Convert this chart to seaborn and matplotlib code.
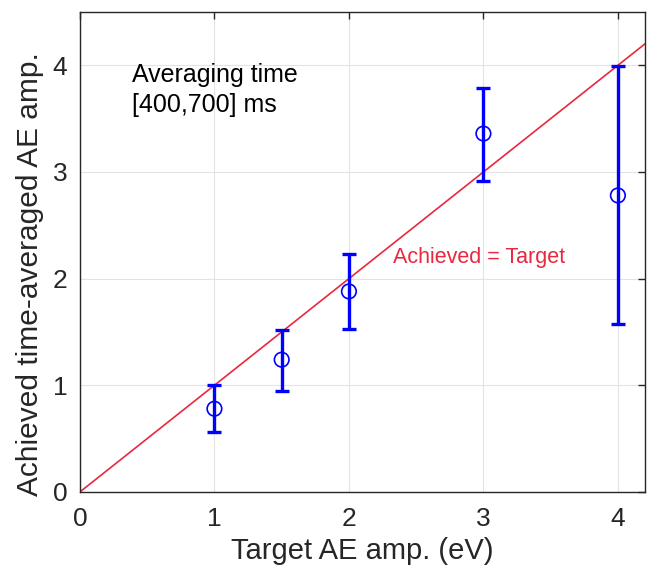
import matplotlib
matplotlib.use("Agg")
import matplotlib.pyplot as plt
import numpy as np
import pandas as pd
import seaborn as sns

# Target vs achieved time-averaged AE amplitude
target = [1.0, 1.5, 2.0, 3.0, 4.0]
achieved = [0.78, 1.24, 1.88, 3.36, 2.78]
upper = [1.00, 1.52, 2.23, 3.79, 3.99]
lower = [0.56, 0.95, 1.53, 2.92, 1.57]

ref_x = [0.0, 4.2]
ref_y = [0.0, 4.2]

xticks = [0, 1, 2, 3, 4]
yticks = [0, 1, 2, 3, 4]

sns.set_theme(style="whitegrid")
plt.rcParams["font.family"] = ["Liberation Sans", "DejaVu Sans"]

fig = plt.figure(figsize=(6.5, 5.72), dpi=100)
ax = fig.add_axes([0.123, 0.14, 0.869, 0.839])

df = pd.DataFrame({"target": target, "achieved": achieved,
                   "upper": upper, "lower": lower})
ref = pd.DataFrame({"x": ref_x, "y": ref_y})

sns.lineplot(data=ref, x="x", y="y", ax=ax, color="#E8283E", linewidth=1.2, zorder=2)

yerr = np.vstack([df["achieved"] - df["lower"], df["upper"] - df["achieved"]])
ax.errorbar(df["target"], df["achieved"], yerr=yerr, fmt="none",
            ecolor="#0000FF", elinewidth=2.4, capsize=5, capthick=2.4, zorder=3)
sns.scatterplot(data=df, x="target", y="achieved", ax=ax, marker="o", s=110,
                facecolor="none", edgecolor="#0000FF", linewidth=1.2, zorder=4)

ax.set_xlim(0, 4.2)
ax.set_ylim(0, 4.5)
ax.set_xticks(xticks)
ax.set_yticks(yticks)
ax.set_xticklabels([str(t) for t in xticks])
ax.set_yticklabels([str(t) for t in yticks])

ax.grid(True, color="#E3E3E3", linewidth=0.8)
for s in ax.spines.values():
    s.set_visible(True)
    s.set_color("#262626")
    s.set_linewidth(1.0)
ax.tick_params(axis="both", direction="in", length=5, width=1.0, color="#262626",
               labelsize=19, labelcolor="#262626", top=True, right=True)
ax.tick_params(axis="x", pad=11)
ax.tick_params(axis="y", pad=9)

ax.set_xlabel("Target AE amp. (eV)", fontsize=21, color="#262626", labelpad=4)
ax.set_ylabel("Achieved time-averaged AE amp.", fontsize=21.5, color="#262626")
ax.yaxis.set_label_coords(-0.064, 0.454)

ax.text(0.39, 3.77, "Averaging time\n[400,700] ms", fontsize=18, color="black",
        va="center", ha="left", linespacing=1.3)
ax.text(2.33, 2.2, "Achieved = Target", fontsize=15.5, color="#E8283E",
        va="center", ha="left")

fig.savefig("out.png", dpi=100)
